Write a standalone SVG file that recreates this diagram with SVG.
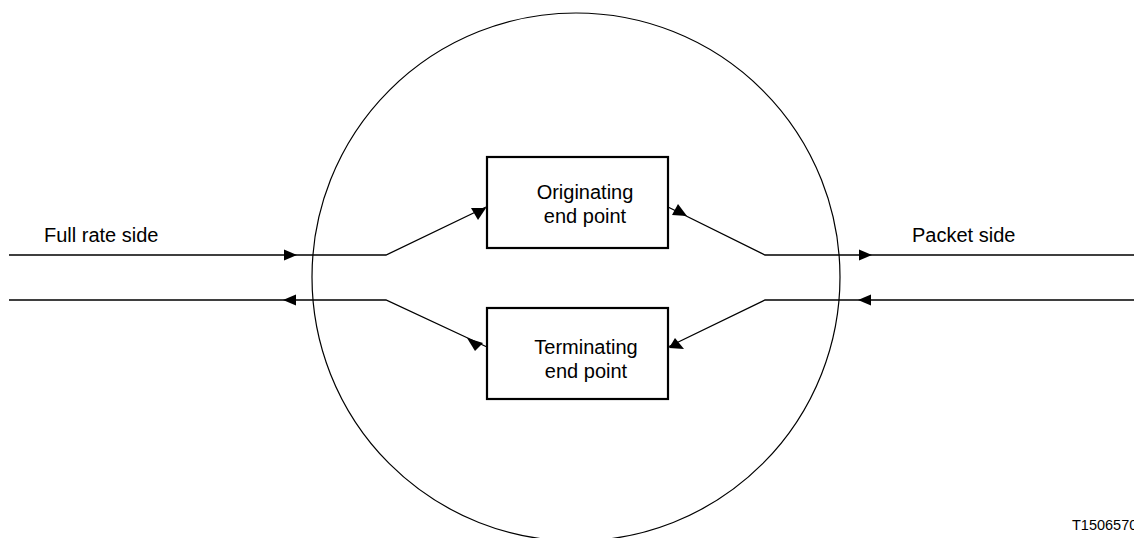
<svg xmlns="http://www.w3.org/2000/svg" width="1134" height="538" viewBox="0 0 1134 538">
<style>
text{font-family:"Liberation Sans",Arial,sans-serif;font-size:20px;fill:#000}
.ln{fill:none;stroke:#000;stroke-width:1.3}
.box{fill:#fff;stroke:#000;stroke-width:2.2}
.ah{fill:#000;stroke:none}
</style>
<defs>
<path id="ah" d="M0,0 L-13,-5.5 L-13,5.5 Z"/>
</defs>
<rect width="1134" height="538" fill="#fff"/>
<circle cx="576" cy="277" r="264" fill="none" stroke="#000" stroke-width="1.2"/>
<g id="connectors">
<path class="ln" d="M9,255 H386 L486,207"/>
<path class="ln" d="M487,347 L386,300 H9"/>
<path class="ln" d="M668,207 L765,255 H1134"/>
<path class="ln" d="M1134,300 H765 L668,347"/>
<use href="#ah" class="ah" transform="translate(297,255)"/>
<use href="#ah" class="ah" transform="translate(283,300) rotate(180)"/>
<use href="#ah" class="ah" transform="translate(872,255)"/>
<use href="#ah" class="ah" transform="translate(858,300) rotate(180)"/>
<polygon class="ah" points="471,208 486,208 478,220"/>
<polygon class="ah" points="678,204 672,215 687,216"/>
<polygon class="ah" points="467,338 483,343 475,351"/>
<polygon class="ah" points="669,348 675,338 684,349"/>
</g>
<g id="originating">
<rect class="box" x="487" y="157" width="181" height="91"/>
<text x="585" y="199" text-anchor="middle">Originating</text>
<text x="585" y="223" text-anchor="middle">end point</text>
</g>
<g id="terminating">
<rect class="box" x="487" y="308" width="181" height="91"/>
<text x="586" y="354" text-anchor="middle">Terminating</text>
<text x="586" y="378" text-anchor="middle">end point</text>
</g>
<g id="labels">
<text x="44" y="242">Full rate side</text>
<text x="912" y="242">Packet side</text>
<text x="1072" y="530" style="font-size:14.5px">T1506570</text>
</g>
</svg>
